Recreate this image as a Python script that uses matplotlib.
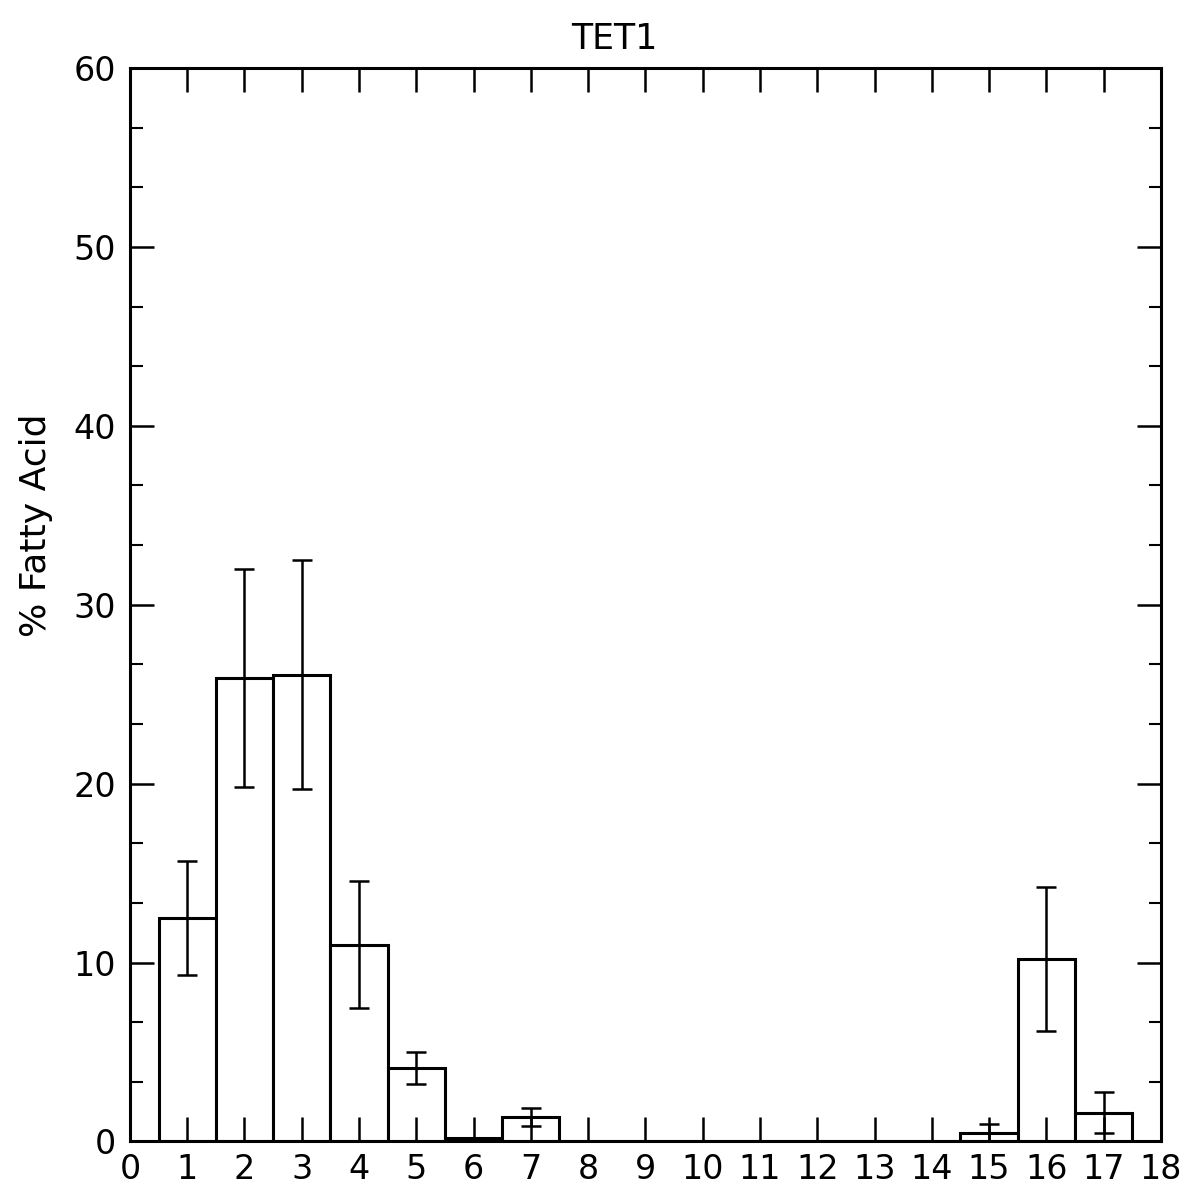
import matplotlib
matplotlib.use("Agg")
import matplotlib.pyplot as plt
from matplotlib.ticker import MultipleLocator

# fatty acid index, mean % and error
positions = [1, 2, 3, 4, 5, 6, 7, 8, 9, 10, 11, 12, 13, 14, 15, 16, 17]
values = [12.5, 25.9, 26.1, 11.0, 4.1, 0.2, 1.35, 0.05, 0.05, 0.05, 0.05, 0.05, 0.05, 0.05, 0.5, 10.2, 1.6]
errors = [3.2, 6.1, 6.4, 3.55, 0.9, 0.0, 0.5, 0.0, 0.0, 0.0, 0.0, 0.0, 0.0, 0.0, 0.45, 4.05, 1.15]
x_ticks = list(range(0, 19))
y_ticks = [0, 10, 20, 30, 40, 50, 60]

plt.rcParams['font.family'] = ['DejaVu Sans']

fig = plt.figure(figsize=(11.81, 11.94), dpi=100)
ax = fig.add_axes([0.110, 0.044, 0.873, 0.899])

ax.bar(positions, values, width=1.0, facecolor="white", edgecolor="black", linewidth=2.2)
err_pos = [p for p, e in zip(positions, errors) if e > 0]
err_val = [v for v, e in zip(values, errors) if e > 0]
err_err = [e for e in errors if e > 0]
ax.errorbar(err_pos, err_val, yerr=err_err, fmt="none", ecolor="black",
            elinewidth=1.8, capsize=7, capthick=1.8)

ax.set_xlim(0, 18)
ax.set_ylim(0, 60)
ax.set_xticks(x_ticks)
ax.set_yticks(y_ticks)
ax.yaxis.set_minor_locator(MultipleLocator(10 / 3))

ax.tick_params(axis="both", which="major", direction="in", length=17, width=1.8,
               top=True, right=True, labelsize=24, pad=10)
ax.tick_params(axis="y", which="minor", direction="in", length=9, width=1.5,
               left=True, right=True)
ax.tick_params(axis="x", which="major", pad=8)

for s in ax.spines.values():
    s.set_linewidth(2.2)

ax.set_title("TET1", fontsize=25, x=0.47, pad=14)
ax.set_ylabel("% Fatty Acid", fontsize=26)
ax.yaxis.set_label_coords(-0.075, 0.574)

fig.savefig("out.png", dpi=100)
